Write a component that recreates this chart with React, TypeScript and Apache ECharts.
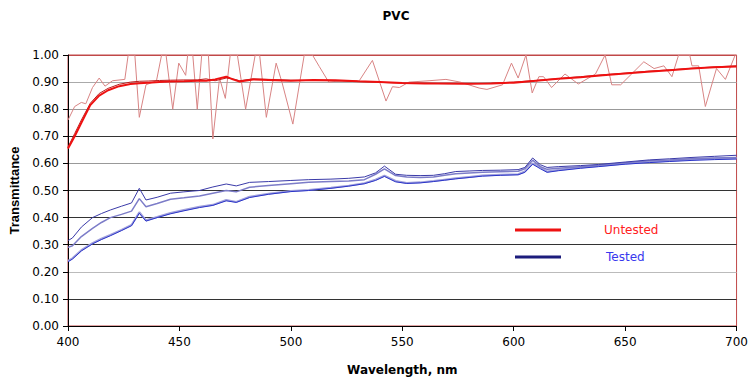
import React, { useEffect, useRef } from "react";
import * as echarts from "echarts";

// Tested (blue) wavelengths and series
const testedWl = [400, 402, 406, 411, 415, 419, 424, 428.5, 432, 435, 440, 446, 452, 459, 465, 471, 475.5, 481.5, 490, 500, 508, 518, 526, 533, 538, 542, 547, 552, 558, 564, 569, 574, 580, 586, 594, 602, 605, 608.5, 612, 615, 620, 630, 638, 650, 661, 670, 680, 690, 700];
const testedA = [0.315, 0.325, 0.365, 0.4, 0.415, 0.428, 0.442, 0.454, 0.508, 0.465, 0.475, 0.49, 0.495, 0.5, 0.513, 0.524, 0.517, 0.53, 0.533, 0.537, 0.54, 0.542, 0.545, 0.55, 0.565, 0.59, 0.56, 0.556, 0.555, 0.556, 0.562, 0.57, 0.572, 0.574, 0.575, 0.577, 0.585, 0.62, 0.595, 0.585, 0.588, 0.592, 0.596, 0.605, 0.613, 0.617, 0.622, 0.626, 0.63];
const testedB = [0.29, 0.296, 0.33, 0.36, 0.382, 0.4, 0.412, 0.424, 0.47, 0.44, 0.452, 0.468, 0.473, 0.48, 0.49, 0.5, 0.495, 0.512, 0.518, 0.525, 0.53, 0.533, 0.535, 0.54, 0.56, 0.58, 0.555, 0.55, 0.548, 0.55, 0.556, 0.562, 0.565, 0.567, 0.569, 0.571, 0.58, 0.612, 0.588, 0.578, 0.582, 0.588, 0.593, 0.602, 0.61, 0.613, 0.617, 0.62, 0.622];
const testedC = [0.24, 0.25, 0.28, 0.306, 0.322, 0.336, 0.355, 0.373, 0.42, 0.39, 0.402, 0.417, 0.428, 0.44, 0.447, 0.465, 0.458, 0.477, 0.488, 0.498, 0.502, 0.51, 0.518, 0.527, 0.54, 0.555, 0.535, 0.528, 0.53, 0.535, 0.54, 0.545, 0.55, 0.555, 0.558, 0.56, 0.57, 0.6, 0.585, 0.57, 0.576, 0.585, 0.59, 0.6, 0.605, 0.61, 0.615, 0.618, 0.62];
const testedD = [0.237, 0.247, 0.277, 0.303, 0.319, 0.333, 0.352, 0.37, 0.416, 0.387, 0.4, 0.414, 0.425, 0.437, 0.445, 0.462, 0.456, 0.474, 0.486, 0.496, 0.5, 0.508, 0.516, 0.525, 0.537, 0.552, 0.532, 0.526, 0.528, 0.533, 0.538, 0.543, 0.548, 0.553, 0.556, 0.558, 0.567, 0.597, 0.58, 0.567, 0.573, 0.582, 0.588, 0.597, 0.603, 0.607, 0.611, 0.614, 0.616];

// Untested (red) smooth series
const untestedWl = [400, 403, 406, 410, 414, 418, 423, 428, 432, 436, 441, 446, 452, 458, 462, 466, 471, 474, 477, 483, 490, 500, 510, 520, 530, 540, 550, 560, 570, 580, 590, 600, 610, 620, 630, 640, 650, 660, 670, 680, 690, 700];
const untestedA = [0.655, 0.7, 0.75, 0.815, 0.85, 0.87, 0.885, 0.893, 0.896, 0.898, 0.9, 0.902, 0.903, 0.905, 0.905, 0.91, 0.92, 0.91, 0.902, 0.91, 0.908, 0.905, 0.908, 0.907, 0.903, 0.9, 0.897, 0.895, 0.895, 0.894, 0.895, 0.898, 0.905, 0.912, 0.918, 0.925, 0.932, 0.938, 0.944, 0.95, 0.955, 0.958];
const untestedB = [0.66, 0.71, 0.76, 0.822, 0.858, 0.877, 0.892, 0.9, 0.903, 0.904, 0.906, 0.907, 0.908, 0.908, 0.912, 0.905, 0.915, 0.912, 0.905, 0.912, 0.91, 0.907, 0.906, 0.905, 0.902, 0.899, 0.896, 0.896, 0.894, 0.894, 0.896, 0.9, 0.906, 0.913, 0.92, 0.927, 0.933, 0.94, 0.945, 0.951, 0.956, 0.96];

// Untested (red) noisy series
const noisyWl = [400, 403, 406, 408, 411, 414, 416.6, 420, 425.5, 427, 430, 432, 435, 439.7, 442, 444, 447, 449.7, 452.8, 453.7, 456, 458, 460, 463, 465, 468, 470.6, 472.8, 476, 479.7, 484, 486, 489, 493.4, 496, 500.9, 506, 509.7, 512.8, 517, 523, 530.7, 536.6, 542.7, 545.6, 548.7, 553, 562, 569.6, 576, 584.5, 588, 595, 599, 602, 605.5, 608.3, 611.3, 613.4, 617, 623, 629, 636.7, 641, 644, 648, 658.4, 663, 667.4, 671, 674, 679, 680, 683, 686, 691, 695, 699.4, 700];
const noisyVal = [0.76, 0.81, 0.825, 0.82, 0.88, 0.915, 0.885, 0.905, 0.91, 1.0, 1.0, 0.77, 0.89, 0.905, 1.0, 1.0, 0.8, 0.97, 0.925, 1.0, 1.0, 0.8, 1.0, 1.0, 0.69, 0.915, 0.84, 1.0, 1.0, 0.8, 1.0, 1.0, 0.77, 0.97, 0.9, 0.745, 1.0, 1.0, 0.957, 0.9, 0.905, 0.905, 0.98, 0.83, 0.883, 0.88, 0.9, 0.905, 0.91, 0.9, 0.878, 0.873, 0.89, 0.97, 0.915, 1.0, 0.86, 0.92, 0.92, 0.88, 0.93, 0.893, 0.93, 1.0, 0.89, 0.89, 0.975, 0.95, 0.96, 0.92, 1.0, 1.0, 0.96, 0.96, 0.81, 0.95, 0.91, 1.0, 1.0];

const xTicks = [400, 450, 500, 550, 600, 650, 700];
const legendNames = ["Untested", "Tested"];

const pairs = (xs: number[], ys: number[]) => xs.map((x, i) => [x, ys[i]]);

const WIDE = "DejaVu Sans, Verdana, sans-serif";
const NARROW = "Liberation Sans, Arial, sans-serif";

export default function App() {
  const ref = useRef<HTMLDivElement>(null);
  useEffect(() => {
    if (!ref.current) return;
    const chart = echarts.init(ref.current, null, { renderer: "svg" });
    const line = (name: string, data: number[][], color: string, width: number, z: number) => ({
      type: "line",
      name,
      data,
      showSymbol: false,
      symbol: "none",
      z,
      lineStyle: { color, width },
      itemStyle: { color },
    });
    chart.setOption({
      animation: false,
      backgroundColor: "#ffffff",
      textStyle: { fontFamily: WIDE },
      title: {
        text: "PVC",
        left: 391,
        top: 5,
        textAlign: "center",
        textStyle: { fontFamily: WIDE, fontSize: 12, fontWeight: "bold", color: "#000" },
      },
      grid: {
        left: 68,
        right: 13,
        top: 55,
        bottom: 59,
        show: true,
        borderColor: "#c04848",
        borderWidth: 1,
        backgroundColor: "transparent",
      },
      xAxis: {
        type: "value",
        min: xTicks[0],
        max: xTicks[xTicks.length - 1],
        interval: 50,
        name: "Wavelength, nm",
        nameLocation: "middle",
        nameGap: 38,
        nameTextStyle: { fontFamily: WIDE, fontSize: 12, fontWeight: "bold", color: "#000" },
        axisLine: { lineStyle: { color: "#000", width: 1 } },
        axisTick: { show: true, length: 5, lineStyle: { color: "#000" } },
        axisLabel: { fontFamily: WIDE, fontSize: 12, color: "#000", margin: 10 },
        splitLine: { show: false },
      },
      yAxis: {
        type: "value",
        min: 0,
        max: 1,
        interval: 0.1,
        name: "Transmittance",
        nameLocation: "middle",
        nameGap: 45,
        nameTextStyle: { fontFamily: NARROW, fontSize: 13, fontWeight: "bold", color: "#000" },
        axisLine: { show: true, lineStyle: { color: "#000", width: 1 } },
        axisTick: { show: true, length: 5, lineStyle: { color: "#000" } },
        axisLabel: {
          fontFamily: WIDE,
          fontSize: 12,
          color: "#000",
          margin: 9,
          formatter: (v: number) => v.toFixed(2),
        },
        splitLine: {
          show: true,
          lineStyle: {
            width: 1,
            color: ["#000", "#333", "#bbb", "#333", "#333", "#333", "#999", "#333", "#999", "#aaa", "#c04848"],
          },
        },
      },
      series: [
        line("Tested C", pairs(testedWl, testedC), "#a0a0dc", 2, 2),
        line("Tested D", pairs(testedWl, testedD), "#2a34c8", 1, 3),
        line("Tested B", pairs(testedWl, testedB), "#7c7cc8", 1.5, 2),
        line("Tested A", pairs(testedWl, testedA), "#3a3aa8", 1, 3),
        line("Untested noisy", pairs(noisyWl, noisyVal), "#d88484", 1, 4),
        line("Untested B", pairs(untestedWl, untestedB), "#b81c1c", 1, 5),
        line("Untested A", pairs(untestedWl, untestedA), "#ee1111", 2, 6),
      ],
      graphic: [
        { type: "line", shape: { x1: 515, y1: 230, x2: 561, y2: 230 }, style: { stroke: "#ee1111", lineWidth: 3 } },
        { type: "text", x: 604, y: 230, style: { text: legendNames[0], fill: "#ff2020", font: `12px ${WIDE}`, textVerticalAlign: "middle" } },
        { type: "line", shape: { x1: 515, y1: 257, x2: 561, y2: 257 }, style: { stroke: "#1c1c7c", lineWidth: 3 } },
        { type: "text", x: 606, y: 257, style: { text: legendNames[1], fill: "#3838ee", font: `12px ${WIDE}`, textVerticalAlign: "middle" } },
      ],
    });
    return () => chart.dispose();
  }, []);
  return <div ref={ref} style={{ width: 751, height: 385, position: "absolute", left: 0, top: 0 }} />;
}
